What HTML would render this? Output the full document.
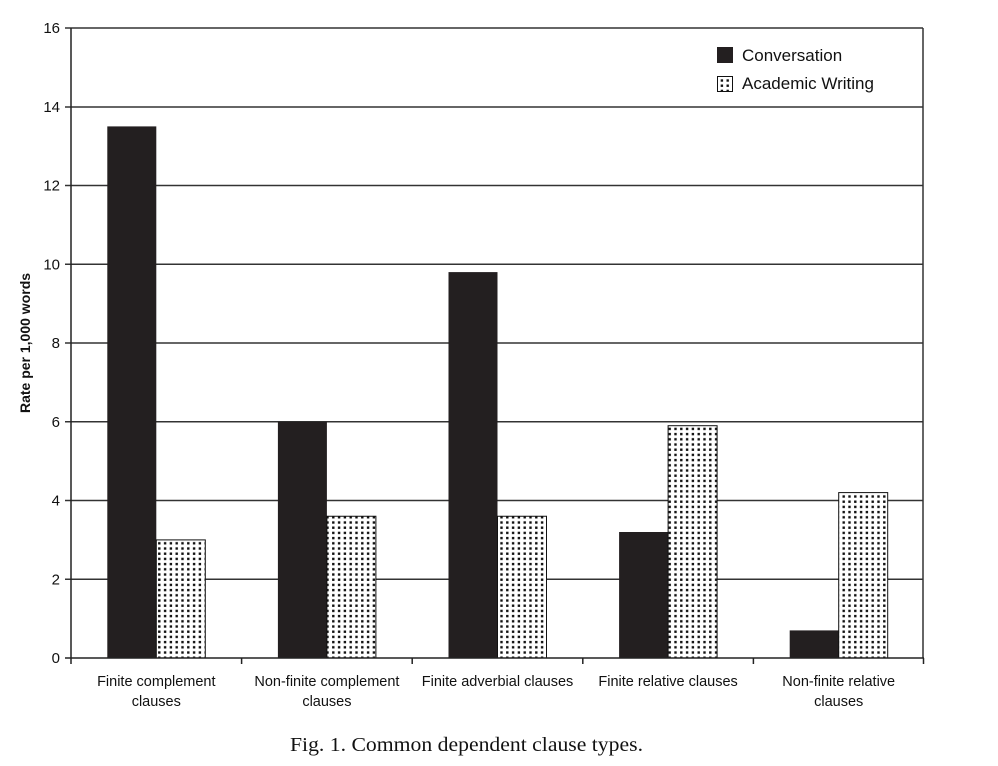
<!DOCTYPE html>
<html>
<head>
<meta charset="utf-8">
<style>
html,body{margin:0;padding:0;background:#fff;}
svg{display:block;}
text{font-family:"Liberation Sans",Arial,sans-serif;fill:#111;}
</style>
</head>
<body>
<svg width="998" height="766" viewBox="0 0 998 766" xmlns="http://www.w3.org/2000/svg">
<defs>
<pattern id="dots" patternUnits="userSpaceOnUse" width="5.8" height="5.2" x="0" y="0">
<rect width="5.8" height="5.2" fill="#fff"/>
<rect x="1.5" y="1.3" width="2.4" height="2.4" fill="#111"/>
</pattern>
</defs>
<g stroke="#333" stroke-width="1.5">
<line x1="65" y1="28" x2="923" y2="28"/>
<line x1="65" y1="107" x2="923" y2="107"/>
<line x1="65" y1="185.5" x2="923" y2="185.5"/>
<line x1="65" y1="264.25" x2="923" y2="264.25"/>
<line x1="65" y1="343" x2="923" y2="343"/>
<line x1="65" y1="421.75" x2="923" y2="421.75"/>
<line x1="65" y1="500.5" x2="923" y2="500.5"/>
<line x1="65" y1="579.25" x2="923" y2="579.25"/>
<line x1="923" y1="28" x2="923" y2="658"/>
</g>
<g>
<rect x="107.3" y="126.4" width="49" height="531.6" fill="#231f20"/>
<rect x="156.3" y="539.9" width="49" height="118.1" fill="url(#dots)" stroke="#111" stroke-width="1"/>
<rect x="277.9" y="421.75" width="49" height="236.25" fill="#231f20"/>
<rect x="326.9" y="516.25" width="49" height="141.75" fill="url(#dots)" stroke="#111" stroke-width="1"/>
<rect x="448.5" y="272.1" width="49" height="385.9" fill="#231f20"/>
<rect x="497.5" y="516.25" width="49" height="141.75" fill="url(#dots)" stroke="#111" stroke-width="1"/>
<rect x="619.1" y="532" width="49" height="126" fill="#231f20"/>
<rect x="668.1" y="425.7" width="49" height="232.3" fill="url(#dots)" stroke="#111" stroke-width="1"/>
<rect x="789.7" y="630.4" width="49" height="27.6" fill="#231f20"/>
<rect x="838.7" y="492.6" width="49" height="165.4" fill="url(#dots)" stroke="#111" stroke-width="1"/>
</g>
<g stroke="#222" stroke-width="1.5">
<line x1="71" y1="28" x2="71" y2="664"/>
<line x1="65" y1="658" x2="924" y2="658"/>
<line x1="241.6" y1="658" x2="241.6" y2="664"/>
<line x1="412.2" y1="658" x2="412.2" y2="664"/>
<line x1="582.8" y1="658" x2="582.8" y2="664"/>
<line x1="753.4" y1="658" x2="753.4" y2="664"/>
<line x1="923.5" y1="658" x2="923.5" y2="664"/>
</g>
<g font-size="15" text-anchor="end">
<text x="60" y="33">16</text>
<text x="60" y="112">14</text>
<text x="60" y="190.5">12</text>
<text x="60" y="269.25">10</text>
<text x="60" y="348">8</text>
<text x="60" y="426.75">6</text>
<text x="60" y="505.5">4</text>
<text x="60" y="584.25">2</text>
<text x="60" y="663">0</text>
</g>
<text transform="translate(30,343) rotate(-90)" text-anchor="middle" font-size="14" font-weight="bold">Rate per 1,000 words</text>
<g font-size="14.5" text-anchor="middle">
<text x="156.3" y="686">Finite complement</text>
<text x="156.3" y="706">clauses</text>
<text x="326.9" y="686">Non-finite complement</text>
<text x="326.9" y="706">clauses</text>
<text x="497.5" y="686">Finite adverbial clauses</text>
<text x="668.1" y="686">Finite relative clauses</text>
<text x="838.7" y="686">Non-finite relative</text>
<text x="838.7" y="706">clauses</text>
</g>
<rect x="717" y="47" width="16" height="16" fill="#231f20"/>
<rect x="717.5" y="76.5" width="15" height="15" fill="url(#dots)" stroke="#111" stroke-width="1"/>
<text x="742" y="61" font-size="17">Conversation</text>
<text x="742" y="89" font-size="17">Academic Writing</text>
<text x="290" y="751" font-size="20.5" textLength="353" lengthAdjust="spacingAndGlyphs" style="font-family:'Liberation Serif','Times New Roman',serif;">Fig. 1.  Common dependent clause types.</text>
</svg>
</body>
</html>
